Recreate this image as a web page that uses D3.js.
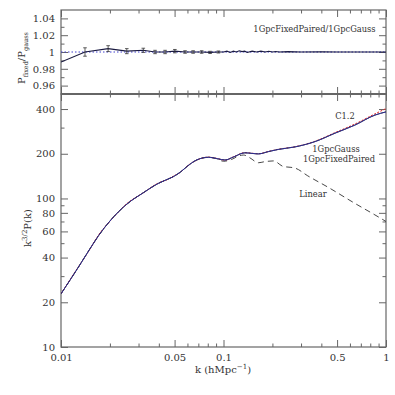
<!DOCTYPE html>
<html><head><meta charset="utf-8">
<script src="https://cdn.jsdelivr.net/npm/d3@7"></script>
<style>
body{margin:0;background:#fff;}
text{font-family:"DejaVu Serif",serif;fill:#333;}
</style></head>
<body><svg id="c" width="395" height="395"></svg>
<script>
// ---- data ----
const xMajorTicks = [0.01, 0.05, 0.1, 0.5, 1];
const xMajorLabels = ["0.01", "0.05", "0.1", "0.5", "1"];
const xMinorTicks = [0.02,0.03,0.04,0.06,0.07,0.08,0.09,0.2,0.3,0.4,0.6,0.7,0.8,0.9];
const yBotMajor = [10,20,40,60,80,100,200,400];
const yBotMinor = [30,50,70,90,300];
const yTopMajor = [0.96,0.98,1,1.02,1.04];
const yTopLabels = ["0.96","0.98","1","1.02","1.04"];
const yTopMinor = [0.97,0.99,1.01,1.03];

// k values and power for nonlinear (1GpcGauss)
const kNL = [0.01,0.0128,0.0151,0.017,0.02,0.0254,0.0321,0.0398,0.0455,0.0491,0.0545,0.06,0.068,0.0808,0.092,0.1022,0.115,0.1355,0.15,0.1636,0.19,0.2167,0.2757,0.3662,0.4854,0.6432,0.855,1.0];
const pGauss = [22.8,34.5,46,56,70.5,91.5,109.3,126.4,135,140.2,151,165,181,189.5,185,181.5,190,203,201,199.6,207,213.8,222.3,241.6,275,312,364,383];
const pFixedPaired = [22.8,34.5,45.9,56.1,70.4,91.6,109.2,126.5,135,140.1,151.2,165,181.2,189.3,185.2,181.4,190.2,202.8,201.2,199.4,207.2,213.6,222.5,241.4,275.3,311.5,364.5,382];
const pC12 = [22.9,34.7,45.7,56.6,70.2,92.3,109.0,127.2,134.6,141.2,150.5,165.8,180.6,189.8,185.5,181.2,190.5,203.4,201.5,200,207.5,214.2,223,242.8,277.5,317,371,403];

// linear theory
const kLin = [0.01,0.0128,0.0151,0.017,0.02,0.0254,0.0321,0.0398,0.0455,0.0491,0.0545,0.06,0.068,0.0808,0.09,0.1,0.112,0.125,0.133,0.145,0.164,0.18,0.203,0.234,0.26,0.276,0.33,0.44,0.64,0.855,1.0];
const pLinear = [22.8,34.5,46,56,70.5,91.5,109.3,126.4,135,140.2,151,165,181,189,186,178,183,194,196,188,174,177,179,164,162,160,142,119,93,77.5,70];

// ratio panel
const kRatio = [0.01,0.01405,0.0195,0.0254,0.0321,0.0379,0.0437,0.0502,0.058,0.065,0.0734,0.0827,0.093,0.1,0.105,0.11,0.115,0.12,0.125,0.13,0.135,0.14,0.15,0.16,0.17,0.18,0.19,0.2,0.21,0.22,0.25,0.3,0.4,0.5,0.7,1.0];
const ratio = [0.988,1.0,1.004,1.001,1.002,1.0,1.0,1.001,1.0,1.0,1.0,0.9995,1.0,1.0,1.001,0.9995,1.001,1.0,1.0015,1.0005,1.001,0.9995,1.001,1.0,1.001,1.0,1.0008,1.0,1.0006,1.0,1.0004,1.0,1.0002,1.0,1.0,1.0];
const ratioErr = [0,0.005,0.0035,0.003,0.0025,0.002,0.002,0.002,0.0015,0.0015,0.0015,0.0013,0.0012];

// ---- layout ----
const L=61,R=386,T=10,M=94,B=347;
const svg=d3.select("#c");
const x=d3.scaleLog().domain([0.01,1]).range([L,R]);
const yT=d3.scaleLinear().domain([0.95,1.05]).range([M,T]);
const yB=d3.scaleLog().domain([10,505]).range([B,M]);
const frameCol="#666", tickCol="#666";

function ticks(axisFn, scale, vals, size, pos, labels){
  const a=axisFn(scale).tickValues(vals).tickSize(size).tickPadding(4);
  a.tickFormat(labels? (d,i)=>labels[i] : "");
  const g=svg.append("g").attr("transform",pos).call(a);
  g.select(".domain").remove();
  g.selectAll("line").attr("stroke",tickCol).attr("stroke-width",1);
  g.selectAll("text").attr("font-family","DejaVu Serif").attr("font-size",10).attr("fill","#333");
  return g;
}
// x ticks: top panel top & bottom, bottom panel top & bottom
ticks(d3.axisBottom,x,xMajorTicks,-7,`translate(0,${B})`,xMajorLabels).selectAll("text").attr("dy","0.95em");
ticks(d3.axisBottom,x,xMinorTicks,-3.5,`translate(0,${B})`);
ticks(d3.axisTop,x,xMajorTicks,-7,`translate(0,${M})`);
ticks(d3.axisTop,x,xMinorTicks,-3.5,`translate(0,${M})`);
ticks(d3.axisBottom,x,xMajorTicks,-7,`translate(0,${M})`);
ticks(d3.axisBottom,x,xMinorTicks,-3.5,`translate(0,${M})`);
ticks(d3.axisTop,x,xMajorTicks,-7,`translate(0,${T})`);
ticks(d3.axisTop,x,xMinorTicks,-3.5,`translate(0,${T})`);
// y ticks bottom panel
ticks(d3.axisLeft,yB,yBotMajor,-7,`translate(${L},0)`,yBotMajor.map(String)).selectAll("text").attr("x",-6);
ticks(d3.axisLeft,yB,yBotMinor,-3.5,`translate(${L},0)`);
ticks(d3.axisRight,yB,yBotMajor,-7,`translate(${R},0)`);
ticks(d3.axisRight,yB,yBotMinor,-3.5,`translate(${R},0)`);
// y ticks top panel
ticks(d3.axisLeft,yT,yTopMajor,-7,`translate(${L},0)`,yTopLabels).selectAll("text").attr("x",-6);
ticks(d3.axisLeft,yT,yTopMinor,-3.5,`translate(${L},0)`);
ticks(d3.axisRight,yT,yTopMajor,-7,`translate(${R},0)`);
ticks(d3.axisRight,yT,yTopMinor,-3.5,`translate(${R},0)`);

// frames
svg.append("rect").attr("x",L).attr("y",T).attr("width",R-L).attr("height",M-T).attr("fill","none").attr("stroke",frameCol).attr("stroke-width",1.2);
svg.append("rect").attr("x",L).attr("y",M).attr("width",R-L).attr("height",B-M).attr("fill","none").attr("stroke",frameCol).attr("stroke-width",1.2);
svg.append("line").attr("x1",L).attr("x2",R).attr("y1",M).attr("y2",M).attr("stroke",frameCol).attr("stroke-width",2);

// clip
svg.append("clipPath").attr("id","cpB").append("rect").attr("x",L).attr("y",M).attr("width",R-L).attr("height",B-M);
svg.append("clipPath").attr("id","cpT").append("rect").attr("x",L).attr("y",T).attr("width",R-L).attr("height",M-T);

// top panel
const gT=svg.append("g").attr("clip-path","url(#cpT)");
gT.append("line").attr("x1",L).attr("x2",R).attr("y1",yT(1)).attr("y2",yT(1)).attr("stroke","#4040d0").attr("stroke-width",1).attr("stroke-dasharray","1.5,2");
const lineT=d3.line().x((d,i)=>x(kRatio[i])).y(d=>yT(d));
gT.append("path").attr("d",lineT(ratio)).attr("fill","none").attr("stroke","#1a1a40").attr("stroke-width",1.1);
ratioErr.forEach((e,i)=>{
  if(e<=0) return;
  const xx=x(kRatio[i]);
  gT.append("line").attr("x1",xx).attr("x2",xx).attr("y1",yT(ratio[i]-e)).attr("y2",yT(ratio[i]+e)).attr("stroke","#333").attr("stroke-width",0.8);
  [ratio[i]-e,ratio[i]+e].forEach(v=>gT.append("line").attr("x1",xx-1.8).attr("x2",xx+1.8).attr("y1",yT(v)).attr("y2",yT(v)).attr("stroke","#333").attr("stroke-width",0.8));
});

// bottom panel
const gB=svg.append("g").attr("clip-path","url(#cpB)");
const lineNL=d3.line().curve(d3.curveMonotoneX).x((d,i)=>x(kNL[i])).y(d=>yB(d));
const lineLin=d3.line().curve(d3.curveMonotoneX).x((d,i)=>x(kLin[i])).y(d=>yB(d));
gB.append("path").attr("d",lineLin(pLinear)).attr("fill","none").attr("stroke","#333").attr("stroke-width",0.9).attr("stroke-dasharray","6,4");
gB.append("path").attr("d",lineNL(pC12)).attr("fill","none").attr("stroke","#e02020").attr("stroke-width",1).attr("stroke-dasharray","2,1.5");
gB.append("path").attr("d",lineNL(pGauss)).attr("fill","none").attr("stroke","#222").attr("stroke-width",1);
gB.append("path").attr("d",lineNL(pFixedPaired)).attr("fill","none").attr("stroke","#3030b0").attr("stroke-width",0.8);

// annotations
function txt(s,xx,yy,size,anchor){return svg.append("text").attr("x",xx).attr("y",yy).attr("font-size",size).attr("text-anchor",anchor||"middle").text(s);}
txt("1GpcFixedPaired/1GpcGauss",314.5,32,8.3);
txt("C1.2",345,119,8.3);
txt("1GpcGauss",336,152,8.3);
txt("1GpcFixedPaired",339,162,8.3);
txt("Linear",313,197,8.3);

// axis titles
const xt=svg.append("text").attr("x",223).attr("y",373).attr("font-size",10).attr("text-anchor","middle");
xt.append("tspan").text("k (hMpc");
xt.append("tspan").attr("font-size",7).attr("dy",-4).text("−1");
xt.append("tspan").attr("dy",4).text(")");

const yl=svg.append("text").attr("transform","translate(31,228) rotate(-90)").attr("font-size",10).attr("text-anchor","middle");
yl.append("tspan").text("k");
yl.append("tspan").attr("font-size",7).attr("dy",-4).text("3/2");
yl.append("tspan").attr("dy",4).text("P(k)");

const yt=svg.append("text").attr("transform","translate(25,58) rotate(-90)").attr("font-size",10).attr("text-anchor","middle");
yt.append("tspan").text("P");
yt.append("tspan").attr("font-size",6.5).attr("dy",3).text("fixed");
yt.append("tspan").attr("dy",-3).text("/P");
yt.append("tspan").attr("font-size",6.5).attr("dy",3).text("gauss");
</script></body></html>
